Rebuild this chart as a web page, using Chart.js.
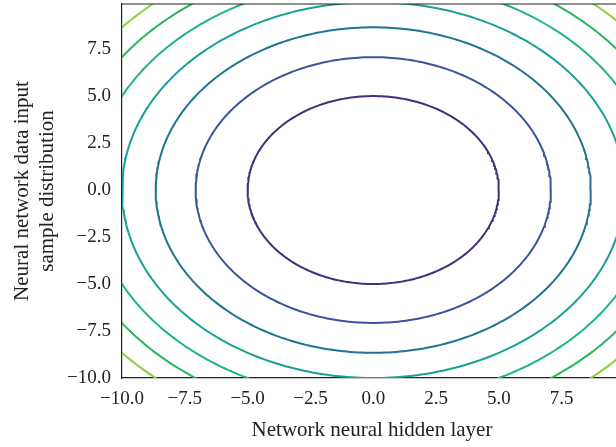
<!DOCTYPE html>
<html>
<head>
<meta charset="utf-8">
<script src="https://cdn.jsdelivr.net/npm/chart.js@4/dist/chart.umd.min.js"></script>
<style>
html,body{margin:0;padding:0;background:#fff;overflow:hidden;}
#wrap{width:622px;height:447px;}
</style>
</head>
<body>
<div id="wrap"><canvas id="c" width="622" height="447"></canvas></div>
<script>
// Contour levels of the field and the radius at which each contour crosses the axes
const contourLevels = [25, 50, 75, 100, 125, 150, 175];
const contourRadii  = [5.0, 7.07, 8.66, 10.0, 11.18, 12.25, 13.23];
const contourColors = ['#472d7b', '#3b559a', '#1f7493', '#1aa195', '#20b38b', '#2db35e', '#8fcf3e'];
const xTicks = [-10, -7.5, -5, -2.5, 0, 2.5, 5, 7.5];
const yTicks = [-10, -7.5, -5, -2.5, 0, 2.5, 5, 7.5];
const xRange = [-10, 9.9];
const yRange = [-10, 9.9];

function circlePoints(r) {
  const pts = [];
  const n = 360;
  for (let i = 0; i <= n; i++) {
    const t = 2 * Math.PI * i / n;
    pts.push({x: r * Math.cos(t), y: r * Math.sin(t)});
  }
  return pts;
}

const datasets = contourLevels.map((lv, i) => ({
  label: 'level ' + lv,
  data: circlePoints(contourRadii[i]),
  showLine: true,
  borderColor: contourColors[i],
  borderWidth: 2,
  pointRadius: 0,
  tension: 0,
  fill: false
}));

const fmt = v => v.toFixed(1).replace('-', '\u2212');
const tickFont = {family: '"Liberation Serif", "Times New Roman", serif', size: 19};
const titleFont = {family: '"Liberation Serif", "Times New Roman", serif', size: 21};

const frame = {
  id: 'frame',
  afterDatasetsDraw(chart) {
    const {ctx, chartArea: a} = chart;
    ctx.save();
    ctx.strokeStyle = '#222';
    ctx.lineWidth = 1.2;
    ctx.beginPath();
    ctx.moveTo(a.left, a.top); ctx.lineTo(a.right, a.top);
    ctx.moveTo(a.right, a.top); ctx.lineTo(a.right, a.bottom);
    ctx.stroke();
    ctx.restore();
  }
};

new Chart(document.getElementById('c'), {
  type: 'scatter',
  data: {datasets},
  options: {
    responsive: false,
    animation: false,
    events: [],
    layout: {padding: {top: 4, left: 0, right: 0, bottom: 0}},
    plugins: {legend: {display: false}, tooltip: {enabled: false}},
    scales: {
      x: {
        type: 'linear', min: xRange[0], max: xRange[1],
        afterFit(s) { s.height = 69; s.paddingLeft = 0; s.paddingRight = 0; },
        afterBuildTicks(s) { s.ticks = xTicks.map(v => ({value: v})); },
        grid: {display: false, drawOnChartArea: false, drawTicks: true, tickLength: 6, tickColor: '#222'},
        border: {display: true, color: '#222', width: 1.2},
        ticks: {color: '#222', font: tickFont, padding: 4, maxRotation: 0, callback: fmt, includeBounds: false},
        title: {display: true, text: 'Network neural hidden layer', color: '#222', font: titleFont, padding: {top: 7}}
      },
      y: {
        type: 'linear', min: yRange[0], max: yRange[1],
        afterFit(s) { s.width = 122; s.paddingTop = 0; s.paddingBottom = 0; },
        afterBuildTicks(s) { s.ticks = yTicks.map(v => ({value: v})); },
        grid: {display: false, drawOnChartArea: false, drawTicks: true, tickLength: 6, tickColor: '#222'},
        border: {display: true, color: '#222', width: 1.2},
        ticks: {color: '#222', font: tickFont, padding: 5, callback: fmt, includeBounds: false},
        title: {display: true, text: ['Neural network data input', 'sample distribution'], color: '#222', font: titleFont, padding: {bottom: 0, top: 10}}
      }
    }
  },
  plugins: [frame]
});
</script>
</body>
</html>
